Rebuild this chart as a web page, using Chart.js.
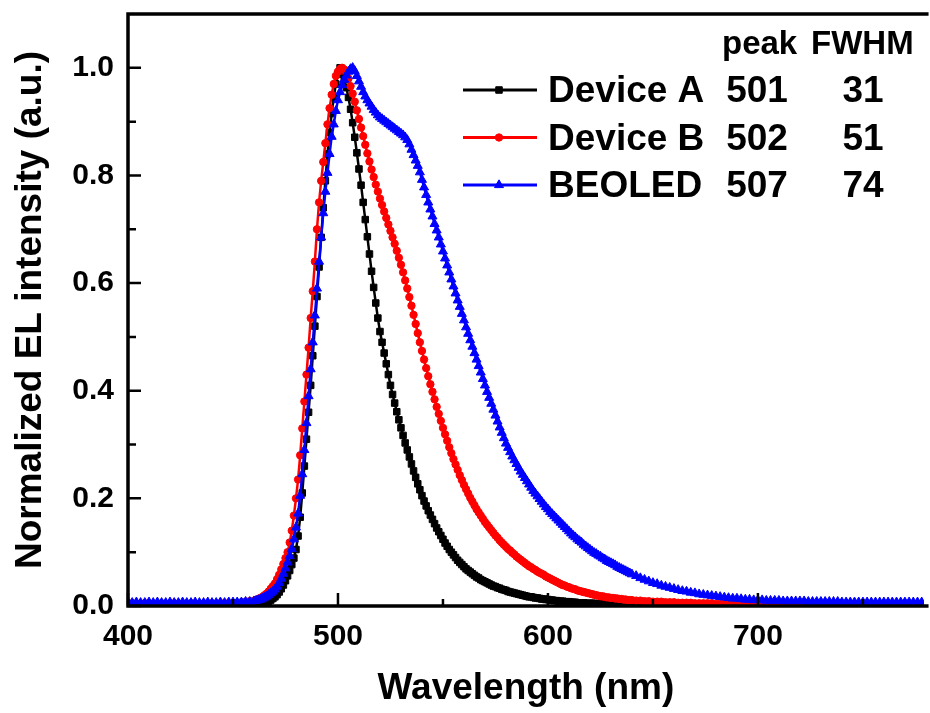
<!DOCTYPE html>
<html>
<head>
<meta charset="utf-8">
<script src="https://cdn.jsdelivr.net/npm/chart.js@4.4.0/dist/chart.umd.min.js"></script>
<style>
  body { margin: 0; background: #fff; }
  canvas { display: block; }
</style>
</head>
<body>
<canvas id="myChart" width="930" height="713"></canvas>
<script>
// Wavelength grid (nm) of the EL spectra
const wavelengths = [
  400,402,404,406,408,410,412,414,416,418,420,422,424,426,428,430,432,434,436,438,
  440,442,444,446,448,450,452,454,456,458,
  460,461,462,463,464,465,466,467,468,469,
  470,471,472,473,474,475,476,477,478,479,
  480,481,482,483,484,485,486,487,488,489,
  490,491,492,493,494,495,496,497,498,499,
  500,501,502,503,504,505,506,507,508,509,
  510,511,512,513,514,515,516,517,518,519,
  520,521,522,523,524,525,526,527,528,529,
  530,531,532,533,534,535,536,537,538,539,
  540,541,542,543,544,545,546,547,548,549,
  550,551,552,553,554,555,556,557,558,559,
  560,561,562,563,564,565,566,567,568,569,
  570,571,572,573,574,575,576,577,578,579,
  580,581,582,583,584,585,586,587,588,589,
  590,591,592,593,594,595,596,597,598,599,
  600,601,602,603,604,605,606,607,608,609,
  610,611,612,613,614,615,616,617,618,619,
  620,621,622,623,624,625,626,627,628,629,
  630,631,632,633,634,635,636,637,638,639,
  640,
  642,644,646,648,650,652,654,656,658,660,
  662,664,666,668,670,672,674,676,678,680,
  682,684,686,688,690,692,694,696,698,700,
  702,704,706,708,710,712,714,716,718,720,
  722,724,726,728,730,732,734,736,738,740,
  742,744,746,748,750,752,754,756,758,760,
  762,764,766,768,770,772,774,776,778,780
];

// Device A (black)
const deviceA = [
  0.003,0.002,0.003,0.003,0.002,0.003,0.003,0.002,0.003,0.002,
  0.003,0.003,0.002,0.003,0.003,0.002,0.003,0.003,0.002,0.003,
  0.003,0.003,0.002,0.003,0.003,0.003,0.002,0.003,0.003,0.003,
  0.003,0.003,0.003,0.004,0.004,0.005,0.007,0.009,0.011,0.014,
  0.017,0.021,0.026,0.032,0.039,0.047,0.056,0.066,0.077,0.089,
  0.105,0.130,0.165,0.210,0.260,0.310,0.360,0.410,0.465,0.520,
  0.575,0.630,0.685,0.740,0.790,0.840,0.880,0.915,0.945,0.970,
  0.988,1.000,0.990,0.978,0.963,0.945,0.923,0.898,0.871,0.842,
  0.812,0.782,0.750,0.718,0.686,0.654,0.622,0.592,0.563,0.535,
  0.510,0.490,0.470,0.450,0.430,0.410,0.393,0.377,0.361,0.346,
  0.331,0.317,0.303,0.290,0.277,0.264,0.251,0.239,0.227,0.216,
  0.205,0.195,0.186,0.177,0.169,0.161,0.153,0.145,0.138,0.131,
  0.124,0.117,0.111,0.105,0.100,0.095,0.090,0.085,0.081,0.077,
  0.073,0.069,0.066,0.063,0.060,0.057,0.054,0.052,0.049,0.047,
  0.045,0.043,0.041,0.039,0.037,0.036,0.034,0.033,0.031,0.030,
  0.029,0.027,0.026,0.025,0.024,0.023,0.022,0.021,0.020,0.019,
  0.018,0.017,0.017,0.016,0.015,0.015,0.014,0.013,0.013,0.012,
  0.012,0.011,0.011,0.010,0.010,0.009,0.009,0.009,0.008,0.008,
  0.008,0.007,0.007,0.007,0.006,0.006,0.006,0.006,0.005,0.005,
  0.005,0.005,0.005,0.004,0.004,0.004,0.004,0.004,0.004,0.004,
  0.003,0.003,0.003,0.003,0.003,0.003,0.003,0.003,0.003,0.003,
  0.003,
  0.003,0.003,0.003,0.003,0.003,0.003,0.003,0.003,0.003,0.003,
  0.002,0.003,0.002,0.002,0.003,0.002,0.002,0.002,0.003,0.002,
  0.002,0.002,0.003,0.002,0.002,0.002,0.002,0.003,0.002,0.002,
  0.002,0.002,0.002,0.003,0.002,0.002,0.002,0.002,0.002,0.003,
  0.002,0.002,0.002,0.002,0.003,0.002,0.002,0.002,0.002,0.002,
  0.002,0.003,0.002,0.002,0.002,0.002,0.002,0.003,0.002,0.002,
  0.002,0.002,0.002,0.002,0.003,0.002,0.002,0.002,0.002,0.002
];

// Device B (red)
const deviceB = [
  0.004,0.005,0.004,0.004,0.005,0.004,0.004,0.004,0.005,0.004,
  0.004,0.005,0.004,0.004,0.004,0.005,0.004,0.004,0.005,0.004,
  0.005,0.004,0.005,0.005,0.005,0.005,0.006,0.007,0.008,0.009,
  0.010,0.011,0.013,0.015,0.017,0.020,0.023,0.027,0.032,0.037,
  0.042,0.050,0.058,0.068,0.078,0.089,0.100,0.118,0.140,0.168,
  0.200,0.235,0.280,0.330,0.380,0.430,0.480,0.535,0.585,0.640,
  0.700,0.750,0.790,0.825,0.860,0.895,0.925,0.950,0.970,0.985,
  0.993,0.998,1.000,0.997,0.990,0.980,0.966,0.952,0.937,0.921,
  0.905,0.889,0.873,0.857,0.841,0.826,0.811,0.797,0.783,0.770,
  0.757,0.745,0.733,0.721,0.709,0.697,0.685,0.673,0.660,0.647,
  0.634,0.620,0.605,0.590,0.574,0.558,0.541,0.524,0.507,0.490,
  0.474,0.458,0.442,0.427,0.412,0.398,0.384,0.370,0.357,0.344,
  0.331,0.319,0.307,0.295,0.284,0.273,0.263,0.253,0.243,0.234,
  0.225,0.217,0.209,0.201,0.194,0.187,0.180,0.174,0.168,0.162,
  0.156,0.151,0.146,0.141,0.136,0.131,0.127,0.122,0.118,0.114,
  0.110,0.106,0.103,0.099,0.096,0.092,0.089,0.086,0.083,0.080,
  0.077,0.074,0.072,0.069,0.067,0.064,0.062,0.060,0.058,0.055,
  0.053,0.051,0.049,0.047,0.045,0.043,0.041,0.039,0.038,0.036,
  0.035,0.033,0.032,0.031,0.029,0.028,0.027,0.026,0.025,0.024,
  0.023,0.022,0.021,0.020,0.019,0.018,0.018,0.017,0.016,0.016,
  0.015,0.015,0.014,0.014,0.013,0.013,0.012,0.012,0.011,0.011,
  0.011,
  0.010,0.010,0.009,0.009,0.008,0.008,0.008,0.007,0.007,0.007,
  0.006,0.006,0.006,0.006,0.005,0.005,0.005,0.005,0.005,0.004,
  0.004,0.004,0.004,0.004,0.004,0.004,0.003,0.003,0.003,0.003,
  0.003,0.003,0.003,0.003,0.003,0.003,0.003,0.003,0.003,0.003,
  0.003,0.003,0.003,0.003,0.003,0.003,0.003,0.003,0.003,0.003,
  0.003,0.003,0.003,0.003,0.003,0.003,0.003,0.003,0.003,0.003,
  0.003,0.003,0.003,0.003,0.003,0.003,0.003,0.003,0.003,0.003
];

// BEOLED (blue)
const beoled = [
  0.007,0.006,0.007,0.006,0.006,0.007,0.006,0.007,0.006,0.006,
  0.007,0.006,0.006,0.007,0.006,0.006,0.007,0.006,0.006,0.007,
  0.006,0.006,0.007,0.006,0.007,0.007,0.007,0.007,0.008,0.008,
  0.009,0.010,0.011,0.012,0.014,0.016,0.018,0.021,0.024,0.027,
  0.031,0.036,0.043,0.051,0.060,0.070,0.081,0.093,0.106,0.124,
  0.146,0.172,0.205,0.245,0.290,0.340,0.390,0.440,0.490,0.540,
  0.590,0.640,0.685,0.730,0.770,0.805,0.840,0.872,0.895,0.920,
  0.940,0.955,0.968,0.978,0.986,0.993,0.998,1.000,0.994,0.985,
  0.975,0.965,0.955,0.947,0.940,0.934,0.928,0.922,0.917,0.912,
  0.908,0.905,0.902,0.899,0.896,0.893,0.890,0.887,0.884,0.881,
  0.878,0.875,0.871,0.866,0.858,0.848,0.838,0.828,0.818,0.806,
  0.792,0.778,0.764,0.750,0.737,0.724,0.710,0.698,0.685,0.672,
  0.659,0.646,0.633,0.620,0.607,0.594,0.581,0.568,0.556,0.543,
  0.531,0.518,0.506,0.494,0.482,0.470,0.458,0.446,0.434,0.422,
  0.410,0.398,0.387,0.376,0.365,0.354,0.343,0.332,0.322,0.312,
  0.302,0.294,0.286,0.278,0.271,0.264,0.257,0.250,0.244,0.238,
  0.232,0.226,0.220,0.214,0.209,0.204,0.199,0.194,0.189,0.184,
  0.180,0.175,0.171,0.167,0.163,0.159,0.155,0.151,0.147,0.143,
  0.139,0.135,0.131,0.128,0.124,0.121,0.118,0.114,0.111,0.108,
  0.105,0.102,0.099,0.097,0.094,0.092,0.089,0.087,0.084,0.082,
  0.080,0.078,0.076,0.073,0.071,0.069,0.067,0.065,0.063,0.061,
  0.059,
  0.056,0.052,0.049,0.046,0.043,0.041,0.038,0.036,0.034,0.032,
  0.030,0.028,0.027,0.025,0.024,0.022,0.021,0.020,0.019,0.018,
  0.017,0.016,0.015,0.014,0.014,0.013,0.012,0.012,0.011,0.011,
  0.011,0.010,0.010,0.010,0.010,0.009,0.009,0.009,0.009,0.009,
  0.009,0.008,0.008,0.008,0.008,0.008,0.008,0.008,0.008,0.007,
  0.007,0.007,0.007,0.007,0.007,0.007,0.007,0.007,0.007,0.007,
  0.007,0.007,0.007,0.007,0.007,0.007,0.007,0.007,0.007,0.007
];

// Legend table
const seriesNames = ['Device A', 'Device B', 'BEOLED'];
const peakValues = ['501', '502', '507'];
const fwhmValues = ['31', '51', '74'];

// Axis ticks
const xTickValues = [400, 450, 500, 550, 600, 650, 700, 750];
const yTickValues = [0, 0.1, 0.2, 0.3, 0.4, 0.5, 0.6, 0.7, 0.8, 0.9, 1.0];

const FONT = "'Liberation Sans', Arial, sans-serif";
const colors = ['#000000', '#ff0000', '#0000ff'];
const styles = [
  { pointStyle: 'rect', radius: 4.6 },
  { pointStyle: 'circle', radius: 3.7 },
  { pointStyle: 'triangle', radius: 5.2 }
];

const toPoints = values => wavelengths.map((w, i) => ({ x: w, y: values[i] }));

// Frame with inward ticks
const framePlugin = {
  id: 'frame',
  afterDatasetsDraw(chart) {
    const { ctx, chartArea: a, scales: { x, y } } = chart;
    ctx.save();
    ctx.strokeStyle = '#000';
    ctx.lineCap = 'square';
    ctx.lineWidth = 3.5;
    ctx.beginPath();
    ctx.moveTo(a.right + 3, a.bottom);
    ctx.lineTo(a.left, a.bottom);
    ctx.lineTo(a.left, a.top);
    ctx.lineTo(a.right + 3, a.top);
    ctx.stroke();
    ctx.lineCap = 'butt';
    ctx.lineWidth = 2.5;
    ctx.beginPath();
    xTickValues.forEach(v => {
      const px = x.getPixelForValue(v);
      const len = v % 100 === 0 ? 13 : 7;
      ctx.moveTo(px, a.bottom);
      ctx.lineTo(px, a.bottom - len);
    });
    yTickValues.forEach((v, i) => {
      const py = y.getPixelForValue(v);
      const len = i % 2 === 0 ? 13 : 8;
      ctx.moveTo(a.left, py);
      ctx.lineTo(a.left + len, py);
    });
    ctx.stroke();
    ctx.restore();
  }
};

// Legend with peak / FWHM table
const legendPlugin = {
  id: 'peakTable',
  afterDraw(chart) {
    const ctx = chart.ctx;
    ctx.save();
    ctx.fillStyle = '#000';
    ctx.textBaseline = 'alphabetic';
    ctx.font = 'bold 33px ' + FONT;
    ctx.textAlign = 'left';
    ctx.fillText('peak', 722, 54);
    ctx.fillText('FWHM', 811, 54);
    seriesNames.forEach((name, i) => {
      const ly = 90 + i * 47.5;
      ctx.strokeStyle = colors[i];
      ctx.fillStyle = colors[i];
      ctx.lineWidth = 3;
      ctx.beginPath();
      ctx.moveTo(463, ly);
      ctx.lineTo(537, ly);
      ctx.stroke();
      ctx.lineWidth = 1;
      Chart.helpers.drawPoint(ctx, {
        pointStyle: styles[i].pointStyle,
        radius: styles[i].radius,
        borderWidth: 1,
        rotation: 0
      }, 499, ly);
      ctx.fillStyle = '#000';
      ctx.font = 'bold 37px ' + FONT;
      ctx.textAlign = 'left';
      ctx.fillText(name, 548, ly + 12);
      ctx.textAlign = 'center';
      ctx.fillText(peakValues[i], 757, ly + 12);
      ctx.fillText(fwhmValues[i], 863, ly + 12);
    });
    ctx.restore();
  }
};

const ctx = document.getElementById('myChart').getContext('2d');

const datasets = [deviceA, deviceB, beoled].map((values, i) => ({
  label: seriesNames[i],
  data: toPoints(values),
  borderColor: colors[i],
  backgroundColor: colors[i],
  borderWidth: 2.5,
  pointStyle: styles[i].pointStyle,
  pointRadius: styles[i].radius,
  pointBorderWidth: 1,
  pointBorderColor: colors[i],
  pointBackgroundColor: colors[i],
  tension: 0,
  order: 3 - i
}));

const elChart = new Chart(ctx, {
  type: 'line',
  data: { datasets: datasets },
  options: {
    responsive: false,
    animation: false,
    devicePixelRatio: 1,
    layout: { padding: { top: 14, left: 0, right: 0, bottom: 0 } },
    plugins: {
      legend: { display: false },
      tooltip: { enabled: false }
    },
    scales: {
      x: {
        type: 'linear',
        min: 400,
        max: 779,
        grid: { display: false, drawTicks: false },
        border: { display: false },
        afterBuildTicks: scale => { scale.ticks = xTickValues.map(v => ({ value: v })); },
        afterFit: scale => { scale.height = 107; },
        ticks: {
          autoSkip: false,
          maxRotation: 0,
          padding: 16,
          color: '#000',
          font: { family: FONT, size: 30, weight: 'bold', lineHeight: 1 },
          callback: v => (v % 100 === 0 ? String(v) : '')
        },
        title: {
          display: true,
          text: 'Wavelength (nm)',
          color: '#000',
          font: { family: FONT, size: 37, weight: 'bold' },
          padding: { top: 0, bottom: 2 }
        }
      },
      y: {
        min: 0,
        max: 1.1,
        grid: { display: false, drawTicks: false },
        border: { display: false },
        afterBuildTicks: scale => { scale.ticks = yTickValues.map(v => ({ value: v })); },
        afterFit: scale => {
          scale.width = 128;
          scale.paddingTop = 0;
          scale.paddingBottom = 0;
        },
        ticks: {
          autoSkip: false,
          padding: 14,
          color: '#000',
          font: { family: FONT, size: 30, weight: 'bold', lineHeight: 1 },
          callback: (v, i) => (i % 2 === 0 ? v.toFixed(1) : '')
        },
        title: {
          display: true,
          text: 'Normalized EL intensity (a.u.)',
          color: '#000',
          font: { family: FONT, size: 37, weight: 'bold' },
          padding: { top: 9, bottom: 0 }
        }
      }
    }
  },
  plugins: [framePlugin, legendPlugin]
});
</script>
</body>
</html>
